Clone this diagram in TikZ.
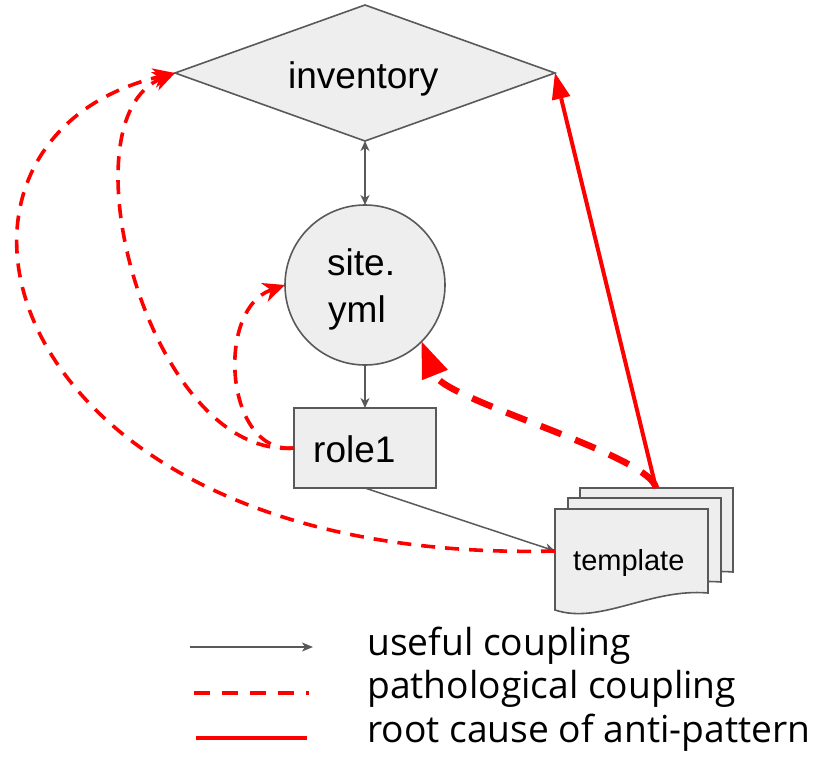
\documentclass[tikz,border=0pt]{standalone}
\usepackage{fontspec}
\setmainfont{Liberation Sans}
\newfontfamily\legendfont{Open Sans}
\usetikzlibrary{arrows.meta,shapes.geometric}
\definecolor{edgegray}{HTML}{595959}
\definecolor{shapefill}{HTML}{EEEEEE}
\definecolor{hotred}{HTML}{FF0000}
\begin{document}
\begin{tikzpicture}[x=1pt,y=-1pt,
  shapebox/.style={draw=edgegray, fill=shapefill, line width=1.6pt, inner sep=0pt, outer sep=0pt},
  lbl/.style={font=\fontsize{37}{44}\selectfont, inner sep=0pt, text=black, anchor=base west},
  smalllbl/.style={font=\fontsize{29}{35}\selectfont, inner sep=0pt, text=black, anchor=base west},
  keytext/.style={font=\legendfont\fontsize{37.2}{44}\selectfont, inner sep=0pt, text=black, anchor=base west},
  useful/.style={draw=edgegray, line width=1.5pt},
  pathline/.style={draw=hotred, line width=3.6pt, dash pattern=on 14pt off 10pt},
  patho/.style={pathline, -{Stealth[length=22pt,width=20pt,inset=7pt,line width=0pt]}},
  rootline/.style={draw=hotred, line width=4pt},
  rootdash/.style={draw=hotred, line width=6.5pt, dash pattern=on 22pt off 15pt,
    -{Triangle[length=36pt,width=28pt,line width=0pt]}},
]
\useasboundingbox (0,0) rectangle (815,763);

% shapes
\node[shapebox, diamond, minimum width=380pt, minimum height=136pt] (inv) at (365,73) {};
\node[lbl] (invtext) at (288,88) {inventory};

\node[shapebox, circle, minimum size=160pt] (site) at (365,285) {};
\node[lbl] (sitetext1) at (327,275) {site.};
\node[lbl] (sitetext2) at (328,322) {yml};

\node[shapebox, rectangle, minimum width=142pt, minimum height=80pt] (role1) at (365,448) {};
\node[lbl] (roletext) at (313,462) {role1};

% stacked template pages, back to front
\foreach \dx/\dy in {25/-21, 13/-11, 0/0} {
  \draw[shapebox, shift={(\dx,\dy)}] (555,509) -- (708,509) -- (708,593)
    .. controls (650,588) and (600,625) .. (555,610) -- cycle;
}
\node[smalllbl] (tmpltext) at (573,570) {template};
\coordinate (tmplL) at (555,551);
\coordinate (tmplT) at (656,488);

% useful couplings
\draw[useful, {Stealth[length=10pt,width=9pt,inset=3pt]}-{Stealth[length=10pt,width=9pt,inset=3pt]}] (inv.south) -- (site.north);
\draw[useful, -{Stealth[length=10pt,width=9pt,inset=3pt]}] (site.south) -- (role1.north);
\draw[useful, -{Stealth[length=10pt,width=9pt,inset=3pt]}] (role1.south) -- (tmplL);

% pathological couplings
\draw[patho] (tmplL) .. controls (-10,565) and (-110,140) .. (inv.west);
\draw[patho] (role1.west) .. controls (150,460) and (60,120) .. (inv.west);
\draw[patho] (role1.west) .. controls (225,455) and (215,310) .. (site.west);

% root cause
\draw[rootdash] (tmplT) .. controls (650,455) and (445,400) .. (site.-45);
\draw[rootline, -{Triangle[length=26pt,width=19pt,line width=0pt]}] (tmplT) -- (inv.east);

% legend
\coordinate (k1a) at (190,647); \coordinate (k1b) at (313,647);
\coordinate (k2a) at (194,693); \coordinate (k2b) at (309,693);
\coordinate (k3a) at (196,738); \coordinate (k3b) at (307,738);
\draw[useful, -{Stealth[length=11pt,width=9pt,inset=3pt]}] (k1a) -- (k1b);
\draw[pathline, dash pattern=on 16pt off 12pt] (k2a) -- (k2b);
\draw[rootline] (k3a) -- (k3b);
\node[keytext] (key1) at (367,655) {useful coupling};
\node[keytext] (key2) at (367,698) {pathological coupling};
\node[keytext] (key3) at (367,742) {root cause of anti-pattern};
\end{tikzpicture}
\end{document}
